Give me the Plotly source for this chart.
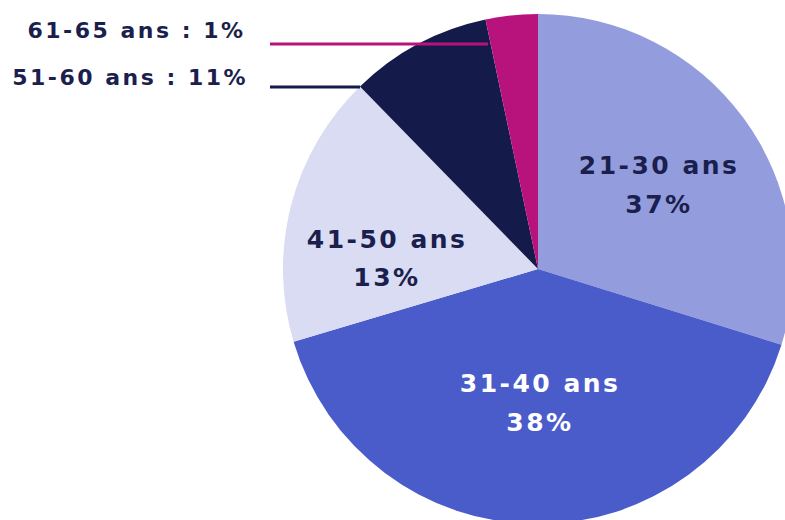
import plotly.graph_objects as go

# Data
categories = ["21-30 ans", "31-40 ans", "41-50 ans", "51-60 ans", "61-65 ans"]
label_pct = ["37%", "38%", "13%", "11%", "1%"]
slice_sizes = [29.8, 40.6, 17.3, 9.0, 3.3]  # visual slice proportions as drawn
colors = ["#939ddd", "#4a5bca", "#d9dcf2", "#141a4a", "#b8127d"]
text_colors = ["#1b1f4d", "#ffffff", "#1b1f4d", "#1b1f4d", "#1b1f4d"]

W, H = 795, 525
FONT = "DejaVu Sans"

def px(x):
    return x / W

def py(y):
    return 1 - y / H

fig = go.Figure()
fig.add_trace(go.Pie(
    labels=categories,
    values=slice_sizes,
    sort=False,
    direction="clockwise",
    rotation=0,
    marker=dict(colors=colors, line=dict(width=0)),
    textinfo="none",
    hoverinfo="label",
    domain=dict(x=[px(283), px(793)], y=[py(524), py(14)]),
    showlegend=False,
))

# inside labels (name line / percent line)
inside_pos = {0: (659, 165, 205), 1: (540, 383, 422), 2: (387, 240, 277)}
annotations = []
for i, (cx, y1, y2) in inside_pos.items():
    for txt, yy in ((categories[i], y1), (label_pct[i], y2)):
        annotations.append(dict(x=px(cx), y=py(yy), xref="paper", yref="paper",
                                text=txt, showarrow=False,
                                font=dict(family=FONT, size=25, color=text_colors[i],
                                          weight="bold"),
                                xanchor="center", yanchor="middle"))

# outside labels with leader lines
outside = {4: (136, 30, 44), 3: (130, 77, 87)}
shapes = []
line_end = {4: 488, 3: 360}
for i, (tx, ty, ly) in outside.items():
    annotations.append(dict(x=px(tx), y=py(ty), xref="paper", yref="paper",
                            text=f"{categories[i]} : {label_pct[i]}", showarrow=False,
                            font=dict(family=FONT, size=22, color="#1b1f4d", weight="bold"),
                            xanchor="center", yanchor="middle"))
    shapes.append(dict(type="line", xref="paper", yref="paper",
                       x0=px(270), x1=px(line_end[i]), y0=py(ly), y1=py(ly),
                       line=dict(color=colors[i], width=3), layer="above"))

fig.update_layout(
    width=W, height=H,
    margin=dict(l=0, r=0, t=0, b=0),
    paper_bgcolor="white",
    plot_bgcolor="white",
    annotations=annotations,
    shapes=shapes,
    font=dict(family=FONT),
)

js = (
    "document.body.style.margin='0';document.body.style.overflow='hidden';"
    "document.querySelectorAll('.annotation-text').forEach(function(e){"
    "e.style.letterSpacing='2.5px';});"
)
fig.write_html("out.html", post_script=js, config={"displayModeBar": False})
